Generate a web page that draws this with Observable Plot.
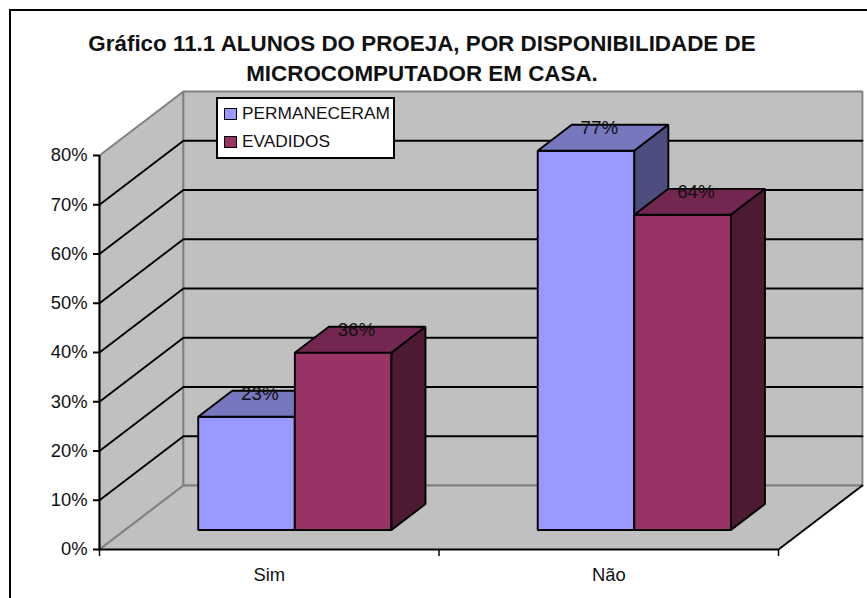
<!DOCTYPE html>
<html lang="pt">
<head>
<meta charset="utf-8">
<script src="https://cdn.jsdelivr.net/npm/d3@7"></script>
<script src="https://cdn.jsdelivr.net/npm/@observablehq/plot@0.6"></script>
<style>
  html, body { margin: 0; padding: 0; background: #fff; }
  body { width: 867px; height: 598px; overflow: hidden; position: relative; font-family: "Liberation Sans", Arial, sans-serif; color: #000; }
  #edge { position: absolute; left: 9px; top: 9px; right: -10px; bottom: -10px; border: 2px solid #000; }
  #title { position: relative; height: 85px; box-sizing: border-box; padding-top: 29px; width: 844px; text-align: center; font-weight: bold; font-size: 22.4px; line-height: 30px; white-space: nowrap; color: #111; }
  #chart { position: relative; display: block; height: 513px; }
  #chart svg { display: block; }
  #legend { position: absolute; left: 216px; top: 97px; width: 175px; height: 58px; border: 2px solid #000; background: #fff; font-size: 17.3px; color: #111; }
  .row { position: absolute; left: 6px; height: 20px; line-height: 20px; white-space: nowrap; }
  .row i { display: inline-block; width: 11px; height: 10px; border: 1.5px solid #000; margin-right: 5px; vertical-align: -0.5px; }
</style>
</head>
<body>
<div id="edge"></div>
<div id="title">Gráfico 11.1 ALUNOS DO PROEJA, POR DISPONIBILIDADE DE<br>MICROCOMPUTADOR EM CASA.</div>
<div id="chart"></div>
<div id="legend"></div>
<script>
const categories = ["Sim", "Não"];
const permaneceram = [23, 77];
const evadidos = [36, 64];
const seriesNames = ["PERMANECERAM", "EVADIDOS"];
const yTicks = [0, 10, 20, 30, 40, 50, 60, 70, 80];
const gridValues = [10, 20, 30, 40, 50, 60, 70];

const blue = { front: "#9999ff", top: "#7777bf", side: "#4d4d80" };
const wine = { front: "#993366", top: "#732650", side: "#4d1a33" };
const wall = "#c0c0c0", edge = "#808080";

// Oblique projection of the 3D box expressed in scale units.
const DX = 0.2472, DY = 13;
const P = (u, d, v) => ({ x: u + d * DX, y: v + d * DY });
const poly = (pts, fill, stroke = "#000", strokeWidth = 1.9) =>
  Plot.line(pts, { x: "x", y: "y", curve: "linear-closed", fill, stroke, strokeWidth, strokeLinejoin: "miter" });
const seg = (pts, stroke, strokeWidth = 1.9) =>
  Plot.line(pts, { x: "x", y: "y", stroke, strokeWidth });

const uMax = categories.length, vMax = yTicks[yTicks.length - 1];
const barW = 0.2846, d0 = 0.305, d1 = 0.71;

function bar(i, k, value, c) {
  const u0 = i + 0.5 + (k - 1) * barW, u1 = u0 + barW;
  return [
    poly([P(u0, d0, 0), P(u1, d0, 0), P(u1, d0, value), P(u0, d0, value)], c.front),
    poly([P(u0, d0, value), P(u1, d0, value), P(u1, d1, value), P(u0, d1, value)], c.top),
    poly([P(u1, d0, 0), P(u1, d1, 0), P(u1, d1, value), P(u1, d0, value)], c.side)
  ];
}

const labels = categories.flatMap((c, i) => [
  { ...P(i + 0.5 - barW / 2, 0.505, permaneceram[i]), t: permaneceram[i] + "%" },
  { ...P(i + 0.5 + barW / 2, 0.505, evadidos[i]), t: evadidos[i] + "%" }
]);

const plot = Plot.plot({
  width: 867, height: 513,
  marginLeft: 99, marginRight: 89, marginTop: 70, marginBottom: 49,
  x: { domain: [0, uMax], axis: null },
  y: { domain: [0, vMax], axis: null },
  style: { background: "transparent", fontFamily: "'Liberation Sans', Arial, sans-serif", color: "#111" },
  marks: [
    // walls and floor
    poly([P(0, 0, 0), P(0, 0, vMax), P(0, 1, vMax), P(0, 1, 0)], wall, edge),
    poly([P(0, 1, 0), P(0, 1, vMax), P(uMax, 1, vMax), P(uMax, 1, 0)], wall, edge),
    poly([P(0, 0, 0), P(0, 1, 0), P(uMax, 1, 0), P(uMax, 0, 0)], wall, "none"),
    // gridlines on both walls
    ...gridValues.map(v => seg([P(0, 0, v), P(0, 1, v), P(uMax, 1, v)], "#000")),
    seg([P(0, 1, 0), P(uMax, 1, 0)], edge, 2),
    seg([P(0, 0, 0), P(0, 1, 0)], edge, 2),
    seg([P(uMax, 1, 0), P(uMax, 0, 0)], "#000"),
    // bars
    ...categories.flatMap((c, i) => [
      ...bar(i, 0, permaneceram[i], blue),
      ...bar(i, 1, evadidos[i], wine)
    ]),
    // axes
    Plot.ruleX([0], { y1: 0, y2: vMax, stroke: "#000", strokeWidth: 2 }),
    Plot.ruleY([0], { x1: 0, x2: uMax, stroke: "#000", strokeWidth: 2 }),
    Plot.axisY({ ticks: yTicks, tickSize: 6, tickPadding: 6, tickFormat: d => d + "%", fontSize: 18.4, stroke: "#000", strokeWidth: 2, strokeOpacity: 1, label: null }),
    Plot.axisX({ ticks: d3.range(uMax + 1), tickSize: 7, tickFormat: () => "", stroke: "#000", strokeWidth: 1.5, strokeOpacity: 1, label: null }),
    Plot.axisX({ ticks: categories.map((c, i) => i + 0.5), tickSize: 0, tickPadding: 18, tickFormat: d => categories[d - 0.5], fontSize: 18.4, label: null }),
    // value labels
    Plot.text(labels, { x: "x", y: "y", text: "t", dx: -3.5, dy: -10, fontSize: 18.8, fill: "#111", lineAnchor: "middle" })
  ]
});
document.getElementById("chart").appendChild(plot);

const legend = document.getElementById("legend");
[blue.front, wine.front].forEach((col, i) => {
  const row = document.createElement("div");
  row.className = "row";
  row.style.top = (4 + i * 28) + "px";
  row.innerHTML = `<i style="background:${col}"></i>${seriesNames[i]}`;
  legend.appendChild(row);
});
</script>
</body>
</html>
